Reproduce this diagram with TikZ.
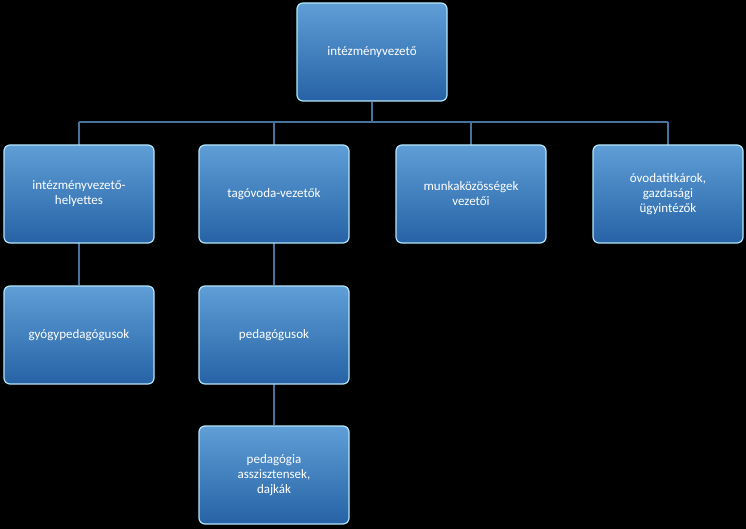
\documentclass[tikz,border=0pt]{standalone}
\usepackage{fontspec}
\setmainfont{Carlito}
\begin{document}
\begin{tikzpicture}[x=1pt,y=-1pt,
  bx/.style={draw=white!70!cyan,line width=1.2pt,rounded corners=6pt,top color=boxtop,bottom color=boxbot,
    minimum width=150pt,minimum height=98pt,text width=140pt,align=center,text=white,font=\fontsize{13}{15}\selectfont},
  ln/.style={draw=linec,line width=1.6pt}]
\definecolor{boxtop}{RGB}{95,158,215}
\definecolor{boxbot}{RGB}{38,98,165}
\definecolor{linec}{RGB}{70,115,160}
\fill[black] (0,0) rectangle (746,529);
\useasboundingbox (0,0) rectangle (746,529);
\coordinate (hl) at (79,122);
\coordinate (hr) at (668,122);
\coordinate (hm) at (372,122);
\coordinate (h1) at (274,122);
\coordinate (h2) at (471,122);
\draw[ln] (372,102) -- (hm);
\draw[ln] (hl) -- (hr);
\draw[ln] (hl) -- (79,145);
\draw[ln] (h1) -- (274,145);
\draw[ln] (h2) -- (471,145);
\draw[ln] (hr) -- (668,145);
\draw[ln] (79,243) -- (79,285);
\draw[ln] (274,243) -- (274,285);
\draw[ln] (274,384) -- (274,425);
\node[bx] (top) at (372,52) {intézményvezető};
\node[bx] (a) at (79,194) {intézményvezető-\\helyettes};
\node[bx] (b) at (274,194) {tagóvoda-vezetők};
\node[bx] (c) at (471,194) {munkaközösségek\\vezetői};
\node[bx] (d) at (668,194) {óvodatitkárok,\\gazdasági\\ügyintézők};
\node[bx] (e) at (79,335) {gyógypedagógusok};
\node[bx] (f) at (274,335) {pedagógusok};
\node[bx] (g) at (274,475) {pedagógia\\asszisztensek,\\dajkák};
\end{tikzpicture}
\end{document}
